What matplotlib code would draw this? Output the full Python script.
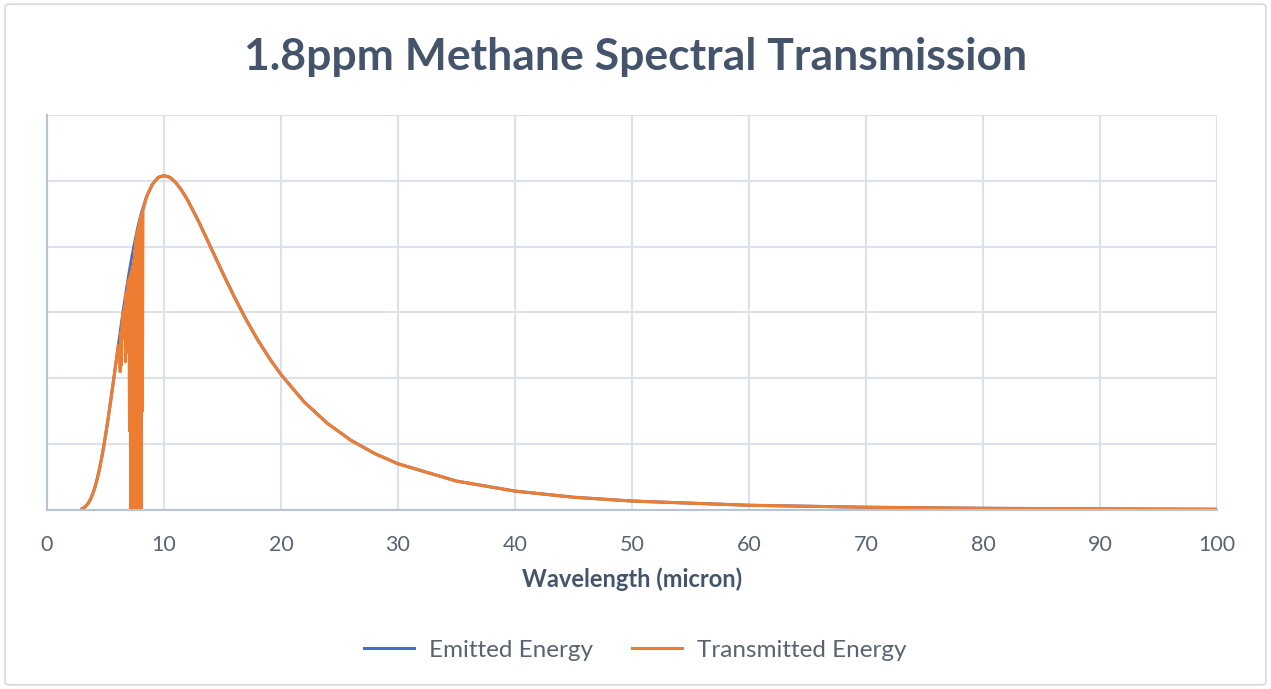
import matplotlib.pyplot as plt
from matplotlib.patches import FancyBboxPatch

# wavelength (micron) and emitted energy (arbitrary units)
wl_emit = [3.0, 3.25, 3.5, 3.75, 4.0, 4.25, 4.5, 4.75, 5.0, 5.25, 5.5, 5.75,
           6.0, 6.25, 6.5, 6.75, 7.0, 7.25, 7.5, 7.75, 8.0, 8.5, 9.0, 9.5,
           10.0, 10.5, 11.0, 11.5, 12.0, 13.0, 14.0, 15.0, 16.0, 17.0, 18.0,
           19.0, 20.0, 22.0, 24.0, 26.0, 28.0, 30.0, 35.0, 40.0, 45.0, 50.0,
           60.0, 70.0, 80.0, 90.0, 100.0]
emitted = [0.020, 0.047, 0.096, 0.175, 0.289, 0.443, 0.636, 0.867, 1.131, 1.422,
           1.732, 2.052, 2.376, 2.697, 3.011, 3.306, 3.587, 3.841, 4.073, 4.284,
           4.466, 4.755, 4.946, 5.051, 5.080, 5.053, 4.974, 4.857, 4.713, 4.367,
           3.987, 3.607, 3.239, 2.898, 2.586, 2.307, 2.056, 1.637, 1.311, 1.056,
           0.858, 0.702, 0.439, 0.287, 0.194, 0.136, 0.072, 0.042, 0.026, 0.017,
           0.011]

# transmitted energy, with the methane absorption bands around 6.3 and 7.7 micron
wl_trans = [3.0, 3.25, 3.5, 3.75, 4.0, 4.25, 4.5, 4.75, 5.0, 5.25, 5.5, 5.75,
            6.0, 6.1, 6.2, 6.25, 6.3, 6.35, 6.4, 6.5, 6.6, 6.65, 6.7, 6.75,
            6.85, 6.9, 7.0, 7.05, 7.1, 7.15, 7.2, 7.25, 7.3, 7.35, 7.4, 7.45,
            7.5, 7.55, 7.6, 7.65, 7.7, 7.75, 7.8, 7.85, 7.9, 7.95, 8.0, 8.05,
            8.1, 8.15, 8.2, 8.5, 9.0, 9.5, 10.0, 10.5, 11.0, 11.5, 12.0, 13.0,
            14.0, 15.0, 16.0, 17.0, 18.0, 19.0, 20.0, 22.0, 24.0, 26.0, 28.0,
            30.0, 35.0, 40.0, 45.0, 50.0, 60.0, 70.0, 80.0, 90.0, 100.0]
transmitted = [0.020, 0.047, 0.096, 0.175, 0.289, 0.443, 0.636, 0.867, 1.131,
               1.422, 1.732, 2.052, 2.376, 2.50, 2.40, 2.10, 2.70, 2.20, 2.80,
               3.01, 2.60, 3.10, 2.25, 3.30, 2.40, 3.45, 3.50, 1.20, 3.55, 0.0,
               3.62, 0.0, 3.70, 0.0, 3.80, 0.0, 3.95, 0.0, 4.10, 0.0, 4.22, 0.0,
               4.30, 0.0, 4.38, 0.0, 4.46, 0.0, 4.50, 1.50, 4.55, 4.755, 4.946,
               5.051, 5.080, 5.053, 4.974, 4.857, 4.713, 4.367, 3.987, 3.607,
               3.239, 2.898, 2.586, 2.307, 2.056, 1.637, 1.311, 1.056, 0.858,
               0.702, 0.439, 0.287, 0.194, 0.136, 0.072, 0.042, 0.026, 0.017,
               0.011]

x_ticks = [0, 10, 20, 30, 40, 50, 60, 70, 80, 90, 100]

plt.rcParams['font.family'] = ['Lato', 'DejaVu Sans']

fig = plt.figure(figsize=(12.71, 6.89), dpi=100)
border = FancyBboxPatch((0.004, 0.006), 0.992, 0.988, boxstyle="round,pad=0,rounding_size=0.004",
                        transform=fig.transFigure, facecolor='white', edgecolor='#d9d9d9',
                        linewidth=1.2, zorder=-10)
fig.patches.append(border)

ax = fig.add_axes([0.037, 0.2598, 0.9205, 0.5733])
ax.plot(wl_emit, emitted, color='#4472C4', linewidth=2.2, label='Emitted Energy')
ax.plot(wl_trans, transmitted, color='#ED7D31', linewidth=2.2, label='Transmitted Energy')

ax.set_xlim(0, 100)
ax.set_ylim(0, 6)
ax.set_xticks(x_ticks)
ax.set_yticks([0, 1, 2, 3, 4, 5, 6])
ax.set_yticklabels([])
ax.grid(True, color='#dde2ea', linewidth=1.5)
ax.set_axisbelow(True)
ax.tick_params(axis='both', length=0)
ax.tick_params(axis='x', pad=18, labelsize=15.5, labelcolor='#5a6470')
for s in ['top', 'right']:
    ax.spines[s].set_visible(False)
ax.spines['left'].set_color('#b8c4d6')
ax.spines['bottom'].set_color('#b8c4d6')
ax.spines['left'].set_linewidth(1.5)
ax.spines['bottom'].set_linewidth(1.5)

ax.set_xlabel('Wavelength (micron)', fontsize=17, fontweight='bold', color='#44546A', labelpad=9)
fig.text(0.5, 1 - 57 / 689, '1.8ppm Methane Spectral Transmission', ha='center', va='center',
         fontsize=32, fontweight='bold', color='#44546A')

fig.legend(loc='center', bbox_to_anchor=(0.5, 1 - 650 / 689), ncol=2, frameon=False,
           fontsize=17.5, handlelength=2.06, handletextpad=0.62, columnspacing=1.6,
           labelcolor='#5a6470')

fig.savefig('out.png', dpi=100)
